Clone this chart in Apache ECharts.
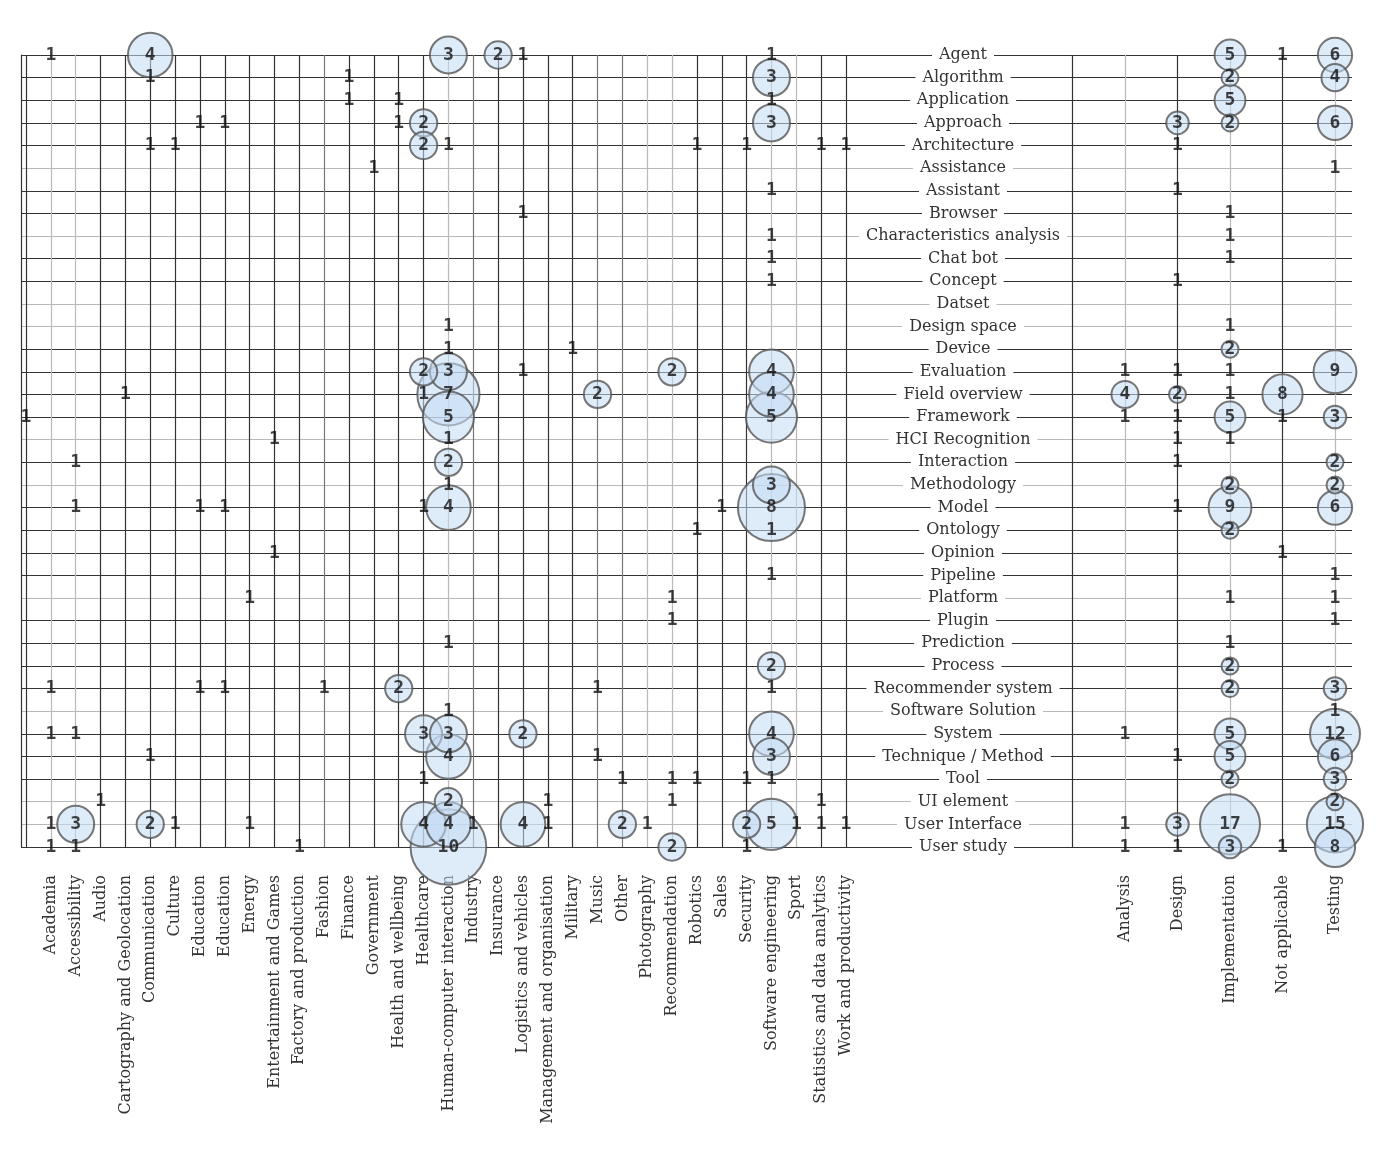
<!DOCTYPE html>
<html>
<head>
<meta charset="utf-8">
<script src="https://cdn.jsdelivr.net/npm/echarts@6/dist/echarts.min.js"></script>
<style>
html,body{margin:0;padding:0;background:#fff;}
#chart{width:1386px;height:1160px;}
</style>
</head>
<body>
<div id="chart"></div>
<script>
// ---- categories ----
const rows = ["Agent","Algorithm","Application","Approach","Architecture","Assistance","Assistant","Browser",
  "Characteristics analysis","Chat bot","Concept","Datset","Design space","Device","Evaluation","Field overview",
  "Framework","HCI Recognition","Interaction","Methodology","Model","Ontology","Opinion","Pipeline","Platform",
  "Plugin","Prediction","Process","Recommender system","Software Solution","System","Technique / Method","Tool",
  "UI element","User Interface","User study"];

const domains = ["","Academia","Accessibility","Audio","Cartography and Geolocation","Communication","Culture",
  "Education","Education","Energy","Entertainment and Games","Factory and production","Fashion","Finance",
  "Government","Health and wellbeing","Healthcare","Human-computer interaction","Industry","Insurance",
  "Logistics and vehicles","Management and organisation","Military","Music","Other","Photography",
  "Recommendation","Robotics","Sales","Security","Software engineering","Sport",
  "Statistics and data analytics","Work and productivity"];

const stages = ["","Analysis","Design","Implementation","Not applicable","Testing"];

// ---- values: [row, domain index, count] ----
const domainCounts = [
  ["Agent",1,1],["Agent",5,4],["Agent",17,3],["Agent",19,2],["Agent",20,1],["Agent",30,1],
  ["Algorithm",5,1],["Algorithm",13,1],["Algorithm",30,3],
  ["Application",13,1],["Application",15,1],["Application",30,1],
  ["Approach",7,1],["Approach",8,1],["Approach",15,1],["Approach",16,2],["Approach",30,3],
  ["Architecture",5,1],["Architecture",6,1],["Architecture",16,2],["Architecture",17,1],["Architecture",27,1],
  ["Architecture",29,1],["Architecture",32,1],["Architecture",33,1],
  ["Assistance",14,1],
  ["Assistant",30,1],
  ["Browser",20,1],
  ["Characteristics analysis",30,1],
  ["Chat bot",30,1],
  ["Concept",30,1],
  ["Design space",17,1],
  ["Device",17,1],["Device",22,1],
  ["Evaluation",16,2],["Evaluation",17,3],["Evaluation",20,1],["Evaluation",26,2],["Evaluation",30,4],
  ["Field overview",4,1],["Field overview",16,1],["Field overview",17,7],["Field overview",23,2],["Field overview",30,4],
  ["Framework",0,1],["Framework",17,5],["Framework",30,5],
  ["HCI Recognition",10,1],["HCI Recognition",17,1],
  ["Interaction",2,1],["Interaction",17,2],
  ["Methodology",17,1],["Methodology",30,3],
  ["Model",2,1],["Model",7,1],["Model",8,1],["Model",16,1],["Model",17,4],["Model",28,1],["Model",30,8],
  ["Ontology",27,1],["Ontology",30,1],
  ["Opinion",10,1],
  ["Pipeline",30,1],
  ["Platform",9,1],["Platform",26,1],
  ["Plugin",26,1],
  ["Prediction",17,1],
  ["Process",30,2],
  ["Recommender system",1,1],["Recommender system",7,1],["Recommender system",8,1],["Recommender system",12,1],
  ["Recommender system",15,2],["Recommender system",23,1],["Recommender system",30,1],
  ["Software Solution",17,1],
  ["System",1,1],["System",2,1],["System",16,3],["System",17,3],["System",20,2],["System",30,4],
  ["Technique / Method",5,1],["Technique / Method",17,4],["Technique / Method",23,1],["Technique / Method",30,3],
  ["Tool",16,1],["Tool",24,1],["Tool",26,1],["Tool",27,1],["Tool",29,1],["Tool",30,1],
  ["UI element",3,1],["UI element",17,2],["UI element",21,1],["UI element",26,1],["UI element",32,1],
  ["User Interface",1,1],["User Interface",2,3],["User Interface",5,2],["User Interface",6,1],["User Interface",9,1],
  ["User Interface",16,4],["User Interface",17,4],["User Interface",18,1],["User Interface",20,4],["User Interface",21,1],
  ["User Interface",24,2],["User Interface",25,1],["User Interface",29,2],["User Interface",30,5],["User Interface",31,1],
  ["User Interface",32,1],["User Interface",33,1],
  ["User study",1,1],["User study",2,1],["User study",11,1],["User study",17,10],["User study",26,2],["User study",29,1]
];

// ---- values: [row, stage index, count] ----
const stageCounts = [
  ["Agent",3,5],["Agent",4,1],["Agent",5,6],
  ["Algorithm",3,2],["Algorithm",5,4],
  ["Application",3,5],
  ["Approach",2,3],["Approach",3,2],["Approach",5,6],
  ["Architecture",2,1],
  ["Assistance",5,1],
  ["Assistant",2,1],
  ["Browser",3,1],
  ["Characteristics analysis",3,1],
  ["Chat bot",3,1],
  ["Concept",2,1],
  ["Design space",3,1],
  ["Device",3,2],
  ["Evaluation",1,1],["Evaluation",2,1],["Evaluation",3,1],["Evaluation",5,9],
  ["Field overview",1,4],["Field overview",2,2],["Field overview",3,1],["Field overview",4,8],
  ["Framework",1,1],["Framework",2,1],["Framework",3,5],["Framework",4,1],["Framework",5,3],
  ["HCI Recognition",2,1],["HCI Recognition",3,1],
  ["Interaction",2,1],["Interaction",5,2],
  ["Methodology",3,2],["Methodology",5,2],
  ["Model",2,1],["Model",3,9],["Model",5,6],
  ["Ontology",3,2],
  ["Opinion",4,1],
  ["Pipeline",5,1],
  ["Platform",3,1],["Platform",5,1],
  ["Plugin",5,1],
  ["Prediction",3,1],
  ["Process",3,2],
  ["Recommender system",3,2],["Recommender system",5,3],
  ["Software Solution",5,1],
  ["System",1,1],["System",3,5],["System",5,12],
  ["Technique / Method",2,1],["Technique / Method",3,5],["Technique / Method",5,6],
  ["Tool",3,2],["Tool",5,3],
  ["UI element",5,2],
  ["User Interface",1,1],["User Interface",2,3],["User Interface",3,17],["User Interface",5,15],
  ["User study",1,1],["User study",2,1],["User study",3,3],["User study",4,1],["User study",5,8]
];

// ---- styles ----
const D = '#333333', L = '#b9b9b9', M = '#777';
const rowLineColors = [D,D,D,D,D,L,D,D,L,D,D,L,L,D,D,D,D,L,D,L,D,D,D,D,L,D,D,D,D,L,D,D,D,L,L,D];
const domainLineColors = [D,L,L,D,D,D,D,D,D,D,D,D,M,D,D,D,D,L,M,D,D,D,D,M,M,L,L,D,D,D,L,L,D,D];
const stageLineColors = [D,L,D,L,D,L];
const serif = "'DejaVu Serif', serif";
const mono = "'DejaVu Sans Mono', monospace";

function leftSize(v){ return Math.sqrt(624*v - 503); }
function rightSize(v){ return Math.sqrt(221*v - 152); }

function items(list, sizeFn){
  return list.slice().sort((a,b)=>b[2]-a[2]).map(([r,x,v]) => ({
    value:[x, rows.indexOf(r), v],
    symbolSize: v === 1 ? 0 : sizeFn(v),
    itemStyle: v === 1 ? {color:'rgba(0,0,0,0)', borderWidth:0} : undefined
  }));
}

const labelStyle = {
  show:true, position:'inside', formatter: p => p.value[2],
  color:'#111', fontFamily: mono, fontWeight:'bold', fontSize:18
};
const bubbleStyle = {color:'rgba(196,220,244,0.7)', borderColor:'#555', borderWidth:2};
const catLabel = {interval:0, rotate:90, margin:28, fontFamily:serif, fontSize:16, color:'#333', padding:[0,0,8,0]};

const chart = echarts.init(document.getElementById('chart'), null, {renderer:'canvas'});
chart.setOption({
  animation:false,
  backgroundColor:'#fff',
  grid:[
    {left:21, top:55, width:1331, height:792},
    {left:26, top:55, width:820, height:792},
    {left:1072.5, top:55, width:262.5, height:792}
  ],
  xAxis:[
    {gridIndex:0, type:'value', min:0, max:1, show:false},
    {gridIndex:1, type:'category', data:domains, boundaryGap:false,
      axisLine:{show:false}, axisTick:{show:false}, axisLabel:catLabel,
      splitLine:{show:true, interval:0, lineStyle:{color:domainLineColors, width:1.2}}},
    {gridIndex:2, type:'category', data:stages, boundaryGap:false,
      axisLine:{show:false}, axisTick:{show:false}, axisLabel:catLabel,
      splitLine:{show:true, interval:0, lineStyle:{color:stageLineColors, width:1.2}}}
  ],
  yAxis:[
    {gridIndex:0, type:'category', data:rows, inverse:true, boundaryGap:false, z:0,
      axisLine:{show:true, lineStyle:{color:'#333', width:1.2}}, axisTick:{show:false}, axisLabel:{show:false},
      splitLine:{show:true, interval:0, lineStyle:{color:rowLineColors, width:1.2}}},
    {gridIndex:1, type:'category', data:rows, inverse:true, boundaryGap:false, position:'right', z:5,
      axisLine:{show:false}, axisTick:{show:false}, splitLine:{show:false},
      axisLabel:{interval:0, margin:117, align:'center', backgroundColor:'#fff', padding:[0,7],
        fontFamily:serif, fontSize:16, color:'#333'}},
    {gridIndex:2, type:'category', data:rows, inverse:true, boundaryGap:false, show:false}
  ],
  series:[
    {type:'scatter', xAxisIndex:1, yAxisIndex:1, z:3, silent:true,
      data: items(domainCounts, leftSize), itemStyle:bubbleStyle, label:labelStyle},
    {type:'scatter', xAxisIndex:2, yAxisIndex:2, z:3, silent:true,
      data: items(stageCounts, rightSize), itemStyle:bubbleStyle, label:labelStyle}
  ]
});
</script>
</body>
</html>
